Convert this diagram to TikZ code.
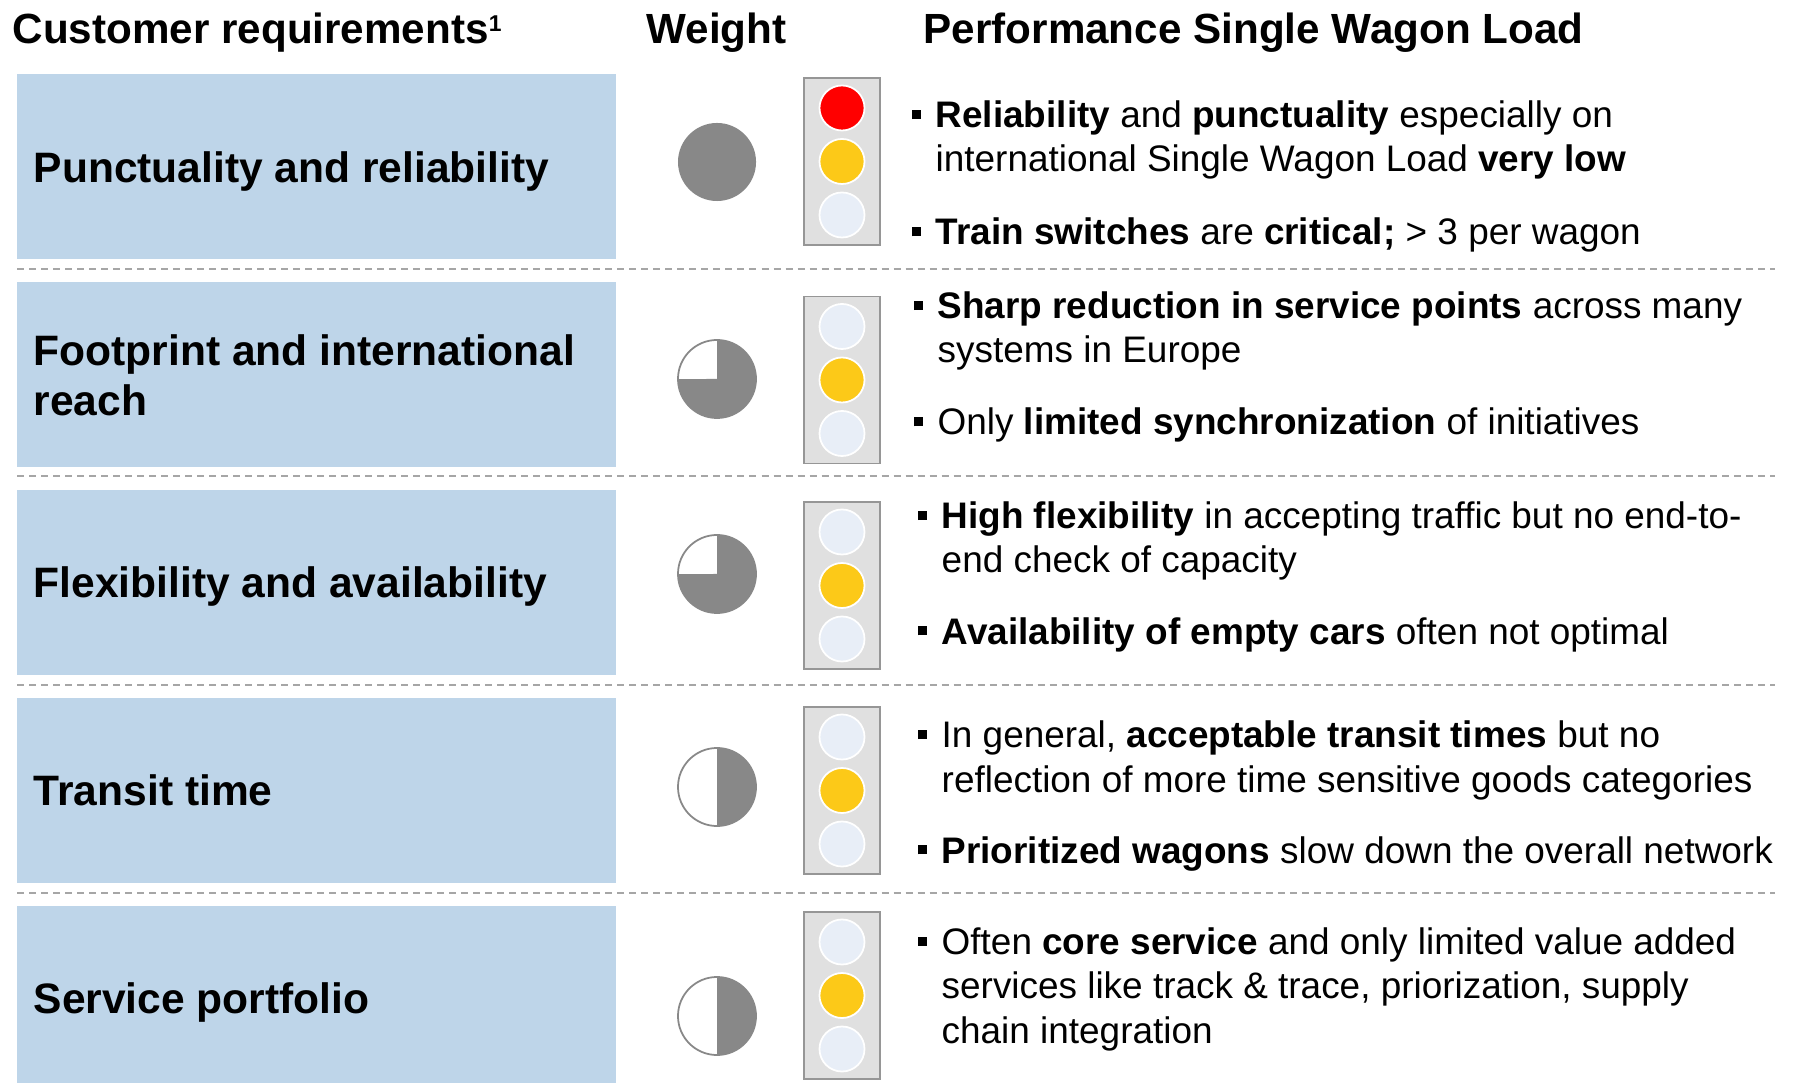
\documentclass[tikz,border=0pt]{standalone}
\usepackage{fontspec}
\setmainfont{Liberation Sans}
\usetikzlibrary{positioning}
\definecolor{reqblue}{RGB}{190,213,233}
\definecolor{piegrey}{RGB}{136,136,136}
\definecolor{lampgrey}{RGB}{224,224,224}
\definecolor{lampedge}{RGB}{150,150,150}
\definecolor{lampoff}{RGB}{232,238,247}
\definecolor{lampamber}{RGB}{252,201,24}
\definecolor{lampred}{RGB}{255,0,0}
\definecolor{sepgrey}{RGB}{166,166,166}
\newcommand{\sqbul}{\llap{\rule[0.085cm]{0.09cm}{0.09cm}\hspace{0.15cm}}}
\tikzset{
    reqbox/.style = {rectangle, fill=reqblue, minimum width=5.99cm, minimum height=1.85cm, inner sep=0pt},
    reqtext/.style = {anchor=base west, align=left, inner sep=0pt, font=\fontsize{12.1}{14.5}\selectfont\bfseries},
    headtext/.style = {anchor=base west, inner sep=0pt, font=\fontsize{12}{14.4}\selectfont\bfseries},
    bultext/.style = {anchor=base west, align=left, inner sep=0pt, font=\fontsize{10.5}{12.6}\selectfont},
    lampbox/.style = {rectangle, draw=lampedge, fill=lampgrey, line width=0.5pt, minimum width=0.76cm, minimum height=1.67cm, inner sep=0pt},
    lamp/.style = {circle, draw=white, line width=0.5pt, minimum size=0.45cm, inner sep=0pt},
}

\begin{document}
\begin{tikzpicture}[
	x=0.01cm,
	y=-0.01cm
]
\tikzset{
    sep/.style = {draw=sepgrey, line width=0.57pt, dash pattern=on 0.07cm off 0.05cm},
    pieedge/.style = {draw=piegrey, line width=0.5pt}
}
\useasboundingbox (0,0) rectangle (1798,1083);
%
\node[headtext] (hreq) at (12,44) {Customer requirements\raisebox{0.12cm}{\fontsize{6.5}{7}\selectfont 1}};
\node[headtext] (hwt) at (646,44) {Weight};
\node[headtext] (hperf) at (923,44) {Performance Single Wagon Load};
%
\node[reqbox] (r1) at (316.5,166.5) {};
\node[reqbox] (r2) at (316.5,374.5) {};
\node[reqbox] (r3) at (316.5,582.5) {};
\node[reqbox] (r4) at (316.5,790.5) {};
\node[reqbox] (r5) at (316.5,998.5) {};
% multi-line nodes: base is the last line
\node[reqtext] (t1) at (33,183) {Punctuality and reliability};
\node[reqtext] (t2) at (33,416) {Footprint and international\\reach};
\node[reqtext] (t3) at (33,598) {Flexibility and availability};
\node[reqtext] (t4) at (33,805) {Transit time};
\node[reqtext] (t5) at (33,1013) {Service portfolio};
%
\draw[sep] (17,269) -- (1775,269);
\draw[sep] (17,476) -- (1775,476);
\draw[sep] (17,685) -- (1775,685);
\draw[sep] (17,893) -- (1775,893);
%
\coordinate (w1) at (717,162);
\coordinate (w2) at (717,379);
\coordinate (w3) at (717,574);
\coordinate (w4) at (717,787);
\coordinate (w5) at (717,1016);
\fill[piegrey] (w1) circle[radius=0.39cm];
\draw[pieedge, fill=white] (w2) circle[radius=0.39cm];
\fill[piegrey] (w2) -- ++(0,-39) arc[start angle=90, end angle=-180, radius=0.39cm] -- cycle;
\draw[pieedge, fill=white] (w3) circle[radius=0.39cm];
\fill[piegrey] (w3) -- ++(0,-39) arc[start angle=90, end angle=-180, radius=0.39cm] -- cycle;
\draw[pieedge, fill=white] (w4) circle[radius=0.39cm];
\fill[piegrey] (w4) -- ++(0,-39) arc[start angle=90, end angle=-90, radius=0.39cm] -- cycle;
\draw[pieedge, fill=white] (w5) circle[radius=0.39cm];
\fill[piegrey] (w5) -- ++(0,-39) arc[start angle=90, end angle=-90, radius=0.39cm] -- cycle;
%
\node[lampbox] (tl1) at (842,161.5) {};
\node[lampbox] (tl2) at (842,380) {};
\node[lampbox] (tl3) at (842,585.5) {};
\node[lampbox] (tl4) at (842,790.5) {};
\node[lampbox] (tl5) at (842,995.5) {};
\node[lamp, fill=lampred] (l1a) at (842,108) {};
\node[lamp, fill=lampamber] (l1b) at (842,161.5) {};
\node[lamp, fill=lampoff] (l1c) at (842,215) {};
\node[lamp, fill=lampoff] (l2a) at (842,326.5) {};
\node[lamp, fill=lampamber] (l2b) at (842,380) {};
\node[lamp, fill=lampoff] (l2c) at (842,433.5) {};
\node[lamp, fill=lampoff] (l3a) at (842,532) {};
\node[lamp, fill=lampamber] (l3b) at (842,585.5) {};
\node[lamp, fill=lampoff] (l3c) at (842,639) {};
\node[lamp, fill=lampoff] (l4a) at (842,737) {};
\node[lamp, fill=lampamber] (l4b) at (842,790.5) {};
\node[lamp, fill=lampoff] (l4c) at (842,844) {};
\node[lamp, fill=lampoff] (l5a) at (842,942) {};
\node[lamp, fill=lampamber] (l5b) at (842,995.5) {};
\node[lamp, fill=lampoff] (l5c) at (842,1049) {};
%
\node[bultext] (b1a) at (935,172) {\sqbul\textbf{Reliability} and \textbf{punctuality} especially on\\international Single Wagon Load \textbf{very low}};
\node[bultext] (b1b) at (935,245) {\sqbul\textbf{Train switches} are \textbf{critical;} > 3 per wagon};
\node[bultext] (b2a) at (937,363) {\sqbul\textbf{Sharp reduction in service points} across many\\systems in Europe};
\node[bultext] (b2b) at (937,435) {\sqbul Only \textbf{limited synchronization} of initiatives};
\node[bultext] (b3a) at (941,573) {\sqbul\textbf{High flexibility} in accepting traffic but no end-to-\\end check of capacity};
\node[bultext] (b3b) at (941,644) {\sqbul\textbf{Availability of empty cars} often not optimal};
\node[bultext] (b4a) at (941,792) {\sqbul In general, \textbf{acceptable transit times} but no\\reflection of more time sensitive goods categories};
\node[bultext] (b4b) at (941,863) {\sqbul\textbf{Prioritized wagons} slow down the overall network};
\node[bultext] (b5a) at (941,1043) {\sqbul Often \textbf{core service} and only limited value added\\services like track \& trace, priorization, supply\\chain integration};
\end{tikzpicture}
\end{document}
